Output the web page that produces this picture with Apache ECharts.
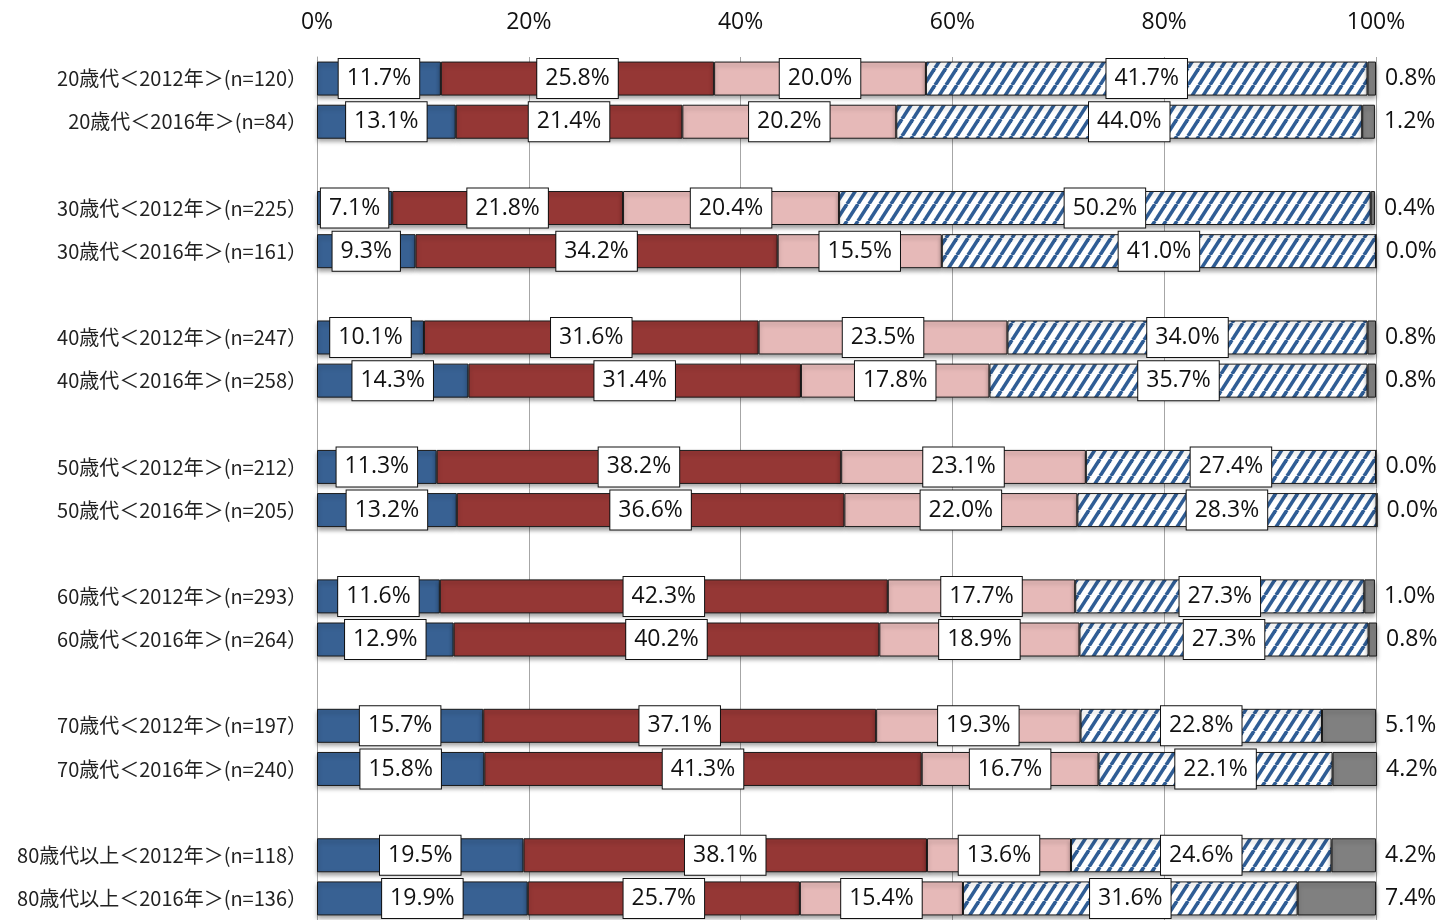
<!DOCTYPE html>
<html>
<head>
<meta charset="utf-8">
<script src="https://cdn.jsdelivr.net/npm/echarts@6/dist/echarts.min.js"></script>
<style>
  html, body { margin: 0; padding: 0; background: #fff; }
  #chart { width: 1443px; height: 920px; }
</style>
</head>
<body>
<div id="chart"></div>
<script>
// Row labels; empty strings leave a gap between age groups
const categories = [
  '20歳代＜2012年＞(n=120）', '20歳代＜2016年＞(n=84）', '',
  '30歳代＜2012年＞(n=225）', '30歳代＜2016年＞(n=161）', '',
  '40歳代＜2012年＞(n=247）', '40歳代＜2016年＞(n=258）', '',
  '50歳代＜2012年＞(n=212）', '50歳代＜2016年＞(n=205）', '',
  '60歳代＜2012年＞(n=293）', '60歳代＜2016年＞(n=264）', '',
  '70歳代＜2012年＞(n=197）', '70歳代＜2016年＞(n=240）', '',
  '80歳代以上＜2012年＞(n=118）', '80歳代以上＜2016年＞(n=136）'
];

// Shares (%) per row, '-' for the gap rows
const seriesBlue   = [11.7, 13.1, '-', 7.1, 9.3, '-', 10.1, 14.3, '-', 11.3, 13.2, '-', 11.6, 12.9, '-', 15.7, 15.8, '-', 19.5, 19.9];
const seriesRed    = [25.8, 21.4, '-', 21.8, 34.2, '-', 31.6, 31.4, '-', 38.2, 36.6, '-', 42.3, 40.2, '-', 37.1, 41.3, '-', 38.1, 25.7];
const seriesPink   = [20.0, 20.2, '-', 20.4, 15.5, '-', 23.5, 17.8, '-', 23.1, 22.0, '-', 17.7, 18.9, '-', 19.3, 16.7, '-', 13.6, 15.4];
const seriesStripe = [41.7, 44.0, '-', 50.2, 41.0, '-', 34.0, 35.7, '-', 27.4, 28.3, '-', 27.3, 27.3, '-', 22.8, 22.1, '-', 24.6, 31.6];
const seriesGray   = [0.8, 1.2, '-', 0.4, 0.0, '-', 0.8, 0.8, '-', 0.0, 0.0, '-', 1.0, 0.8, '-', 5.1, 4.2, '-', 4.2, 7.4];

const axisTicks = [0, 20, 40, 60, 80, 100];

// Diagonal blue-on-white hatch
function makeHatch() {
  const w = 11, h = 17;
  const c = document.createElement('canvas');
  c.width = w; c.height = h;
  const g = c.getContext('2d');
  g.fillStyle = '#ffffff';
  g.fillRect(0, 0, w, h);
  g.strokeStyle = '#2f5d95';
  g.lineWidth = 3.6;
  for (const dx of [-w, 0, w]) {
    g.beginPath();
    g.moveTo(dx, h);
    g.lineTo(dx + w, 0);
    g.stroke();
  }
  return c;
}

const font = '"Open Sans", "Liberation Sans", sans-serif';

const boxLabel = {
  show: true,
  position: 'inside',
  formatter: p => Number(p.value).toFixed(1) + '%',
  fontFamily: font,
  fontSize: 23,
  color: '#111',
  backgroundColor: '#ffffff',
  borderColor: '#111',
  borderWidth: 1,
  padding: [11, 8, 5, 8]
};

const shadow = {
  shadowColor: 'rgba(0,0,0,0.35)',
  shadowBlur: 4,
  shadowOffsetY: 3
};

function makeSeries(name, data, fill, label, extra) {
  return Object.assign({
    name: name,
    type: 'bar',
    stack: 'total',
    barWidth: 34,
    data: data,
    itemStyle: Object.assign({ color: fill, borderColor: '#1a1a1a', borderWidth: 1 }, shadow),
    label: label,
    emphasis: { disabled: true }
  }, extra || {});
}

const chart = echarts.init(document.getElementById('chart'), null, { renderer: 'canvas' });

chart.setOption({
  animation: false,
  backgroundColor: '#ffffff',
  grid: { left: 317, right: 67, top: 57, bottom: -4, containLabel: false },
  xAxis: {
    type: 'value',
    position: 'top',
    min: axisTicks[0],
    max: axisTicks[axisTicks.length - 1],
    interval: axisTicks[1] - axisTicks[0],
    axisLine: { show: false },
    axisTick: { show: false },
    axisLabel: {
      formatter: v => v + '%',
      fontFamily: font,
      fontSize: 23,
      color: '#111',
      margin: 23
    },
    splitLine: { show: true, lineStyle: { color: '#a6a6a6', width: 1 } }
  },
  yAxis: {
    type: 'category',
    inverse: true,
    data: categories,
    axisLine: { show: true, lineStyle: { color: '#a6a6a6', width: 1 } },
    axisTick: { show: false },
    axisLabel: {
      fontFamily: '"Noto Sans CJK JP", sans-serif',
      fontSize: 20,
      color: '#222',
      margin: 10
    }
  },
  series: [
    makeSeries('区分1', seriesBlue, '#386193', boxLabel),
    makeSeries('区分2', seriesRed, '#953735', boxLabel),
    makeSeries('区分3', seriesPink, '#e6b9b8', boxLabel),
    makeSeries('区分4', seriesStripe, { image: makeHatch(), repeat: 'repeat' }, boxLabel),
    makeSeries('区分5', seriesGray, '#808080', {
      show: true,
      position: 'right',
      distance: 9,
      formatter: p => Number(p.value).toFixed(1) + '%',
      fontFamily: font,
      fontSize: 23,
      color: '#111'
    }, { clip: false })
  ]
});
</script>
</body>
</html>
